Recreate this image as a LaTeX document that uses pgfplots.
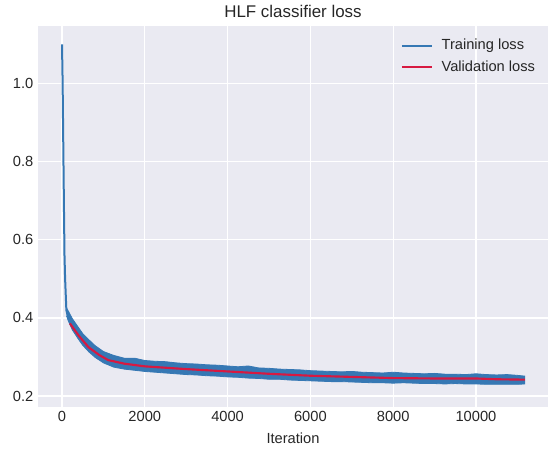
\documentclass[border=0pt]{standalone}
\usepackage{fontspec}
\setmainfont{Liberation Sans}
\usepackage{pgfplots}
\pgfplotsset{compat=1.18}

\definecolor{bgc}{HTML}{EAEAF2}
\definecolor{txt}{HTML}{262626}
\definecolor{trainc}{RGB}{54,120,180}
\definecolor{valc}{RGB}{215,25,65}

\pgfplotsset{
  longline legend/.style={
    legend image code/.code={\draw[##1] (0pt,0pt) -- (22.5pt,0pt);}
  }
}

\begin{document}
\begin{tikzpicture}
\path[use as bounding box] (-28.5pt,-32.25pt) rectangle (384pt,305.25pt);
\begin{axis}[
    at={(0pt,0pt)}, anchor=south west,
    scale only axis,
    width=382.5pt, height=285.75pt,
    xmin=-580, xmax=11740,
    ymin=0.172, ymax=1.147,
    axis background/.style={fill=bgc},
    axis line style={draw=none},
    major tick length=0pt,
    grid=major,
    major grid style={white, line width=0.9pt},
    xtick={0,2000,4000,6000,8000,10000},
    ytick={0.2,0.4,0.6,0.8,1.0},
    scaled x ticks=false,
    /pgf/number format/assume math mode=true,
    xticklabel style={/pgf/number format/1000 sep={}, font=\fontsize{11}{13}\selectfont, text=txt},
    yticklabel style={/pgf/number format/fixed, /pgf/number format/precision=1,
        /pgf/number format/fixed zerofill, font=\fontsize{11}{13}\selectfont, text=txt},
    title={HLF classifier loss},
    title style={font=\fontsize{12.7}{15}\selectfont, text=txt, yshift=-3.5pt},
    xlabel={Iteration},
    xlabel style={font=\fontsize{11}{13}\selectfont, text=txt, yshift=-1pt},
    legend style={draw=none, fill=none, at={(1.0,0.98)}, anchor=north east,
        font=\fontsize{11}{13}\selectfont, text=txt, row sep=3pt,
        nodes={inner xsep=6.5pt}},
    legend cell align=left,
]
% training loss, initial drop
\addplot[trainc, line width=1.5pt, longline legend] coordinates {
(0,1.10) (15,1.00) (30,0.85) (45,0.70) (60,0.56) (75,0.50) (90,0.46)
(105,0.42) (140,0.405) (200,0.39)
};
\addlegendentry{Training loss}
\addlegendimage{valc, line width=1.5pt, longline legend}
\addlegendentry{Validation loss}
% training loss, noisy band: upper edge, then lower edge backwards
\addplot[fill=trainc, draw=trainc, line width=0.6pt, forget plot] coordinates {
(110,0.425) (150,0.418) (250,0.398) (400,0.375) (500,0.360) (650,0.344) (800,0.329)
(1000,0.314) (1250,0.304) (1500,0.297) (1750,0.297) (2000,0.291) (2250,0.289)
(2500,0.288) (2750,0.285) (3000,0.283) (3250,0.282) (3500,0.280) (3750,0.279)
(4000,0.277) (4250,0.275) (4500,0.277) (4750,0.272) (5000,0.271) (5250,0.269)
(5500,0.268) (5750,0.267) (6000,0.265) (6250,0.264) (6500,0.263) (6750,0.262)
(7000,0.263) (7250,0.261) (7500,0.260) (7750,0.259) (8000,0.261) (8250,0.259)
(8500,0.258) (8750,0.257) (9000,0.258) (9250,0.256) (9500,0.256) (9750,0.255)
(10000,0.257) (10250,0.255) (10500,0.254) (10750,0.255) (11000,0.253) (11180,0.251)
(11180,0.231) (11000,0.230) (10750,0.230) (10500,0.230) (10250,0.230) (10000,0.231)
(9750,0.231) (9500,0.232) (9250,0.231) (9000,0.232) (8750,0.232) (8500,0.233)
(8250,0.234) (8000,0.233) (7750,0.234) (7500,0.234) (7250,0.235) (7000,0.236)
(6750,0.237) (6500,0.237) (6250,0.238) (6000,0.239) (5750,0.240) (5500,0.241)
(5250,0.243) (5000,0.243) (4750,0.245) (4500,0.246) (4250,0.248) (4000,0.249)
(3750,0.251) (3500,0.252) (3250,0.254) (3000,0.255) (2750,0.257) (2500,0.259)
(2250,0.261) (2000,0.263) (1750,0.266) (1500,0.269) (1250,0.274) (1000,0.285)
(800,0.299) (650,0.313) (500,0.330) (400,0.345) (250,0.369) (150,0.393) (110,0.405)
};
% validation loss
\addplot[valc, line width=1.6pt, forget plot] coordinates {
(190,0.386) (400,0.355) (640,0.325) (900,0.305) (1115,0.292) (1500,0.283)
(2000,0.276) (3000,0.269) (4000,0.263) (5000,0.257) (6000,0.252) (7000,0.249)
(8000,0.246) (9000,0.245) (10000,0.245) (10500,0.243) (11180,0.242)
};
\end{axis}
\end{tikzpicture}
\end{document}
